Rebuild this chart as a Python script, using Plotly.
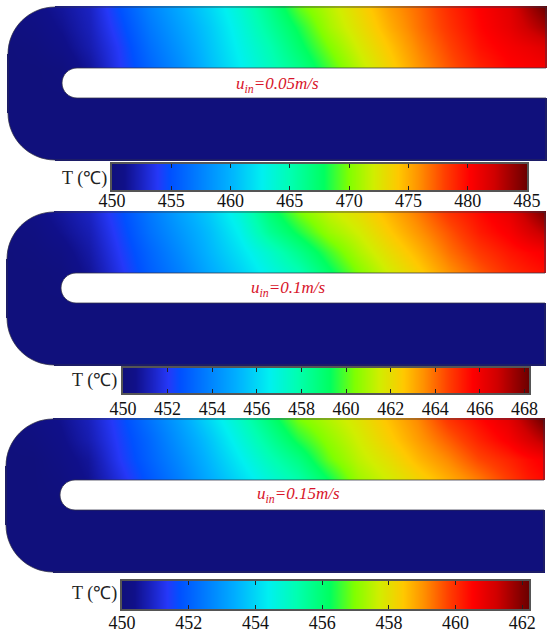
import plotly.graph_objects as go

W, H = 550, 638

# Station positions along the channel and across it (units of the drawing)
X_STATIONS = [0, 27, 54, 82, 112, 142, 172, 202, 232, 262, 292, 322, 352, 382, 412, 442, 472, 502, 522, 538]
Y_STATIONS = [0, 20, 40, 61, 91, 153]

COLD = [450.0] * 20

T_005 = [
    [450.3, 450.8, 451.5, 452.5, 455.0, 457.5, 459.5, 461.5, 463.8, 466.5, 469.5, 471.5, 473.5, 475.5, 477.0, 478.8, 480.2, 481.5, 483.5, 485.0],
    [450.2, 450.5, 451.2, 452.3, 454.5, 457.0, 459.0, 461.0, 463.3, 465.8, 468.3, 471.0, 473.0, 475.0, 476.8, 478.5, 480.0, 481.2, 482.5, 483.5],
    [450.0, 450.2, 450.8, 452.0, 454.0, 456.5, 458.5, 460.7, 462.9, 465.0, 467.5, 470.0, 472.3, 474.3, 476.3, 478.0, 479.6, 480.5, 481.0, 481.5],
    [450.0, 450.0, 450.2, 451.5, 453.8, 456.0, 458.0, 460.4, 462.5, 464.5, 466.5, 469.0, 471.5, 473.7, 475.8, 477.5, 479.0, 480.0, 480.3, 480.5],
    COLD, COLD,
]
T_010 = [
    [450.1, 450.4, 450.8, 451.3, 452.4, 453.6, 454.7, 455.7, 457.0, 458.9, 460.3, 461.3, 462.0, 462.9, 463.8, 464.8, 465.5, 466.2, 467.2, 468.0],
    [450.1, 450.2, 450.6, 451.1, 452.2, 453.4, 454.4, 455.4, 456.6, 458.3, 459.5, 460.7, 461.5, 462.5, 463.4, 464.3, 465.2, 465.8, 466.5, 467.0],
    [450.0, 450.1, 450.3, 450.9, 452.0, 453.1, 454.1, 455.2, 456.2, 457.3, 458.5, 459.8, 461.0, 462.0, 462.9, 463.9, 464.7, 465.3, 465.6, 465.8],
    [450.0, 450.0, 450.1, 450.7, 451.8, 452.9, 453.8, 454.9, 455.8, 456.8, 457.7, 459.1, 460.4, 461.5, 462.4, 463.4, 464.2, 464.9, 465.2, 465.4],
    COLD, COLD,
]
T_015 = [
    [450.0, 450.2, 450.4, 450.8, 451.5, 452.3, 453.1, 454.0, 454.9, 455.9, 456.9, 457.4, 457.9, 458.5, 459.1, 459.9, 460.4, 460.9, 461.6, 462.2],
    [450.0, 450.1, 450.3, 450.7, 451.4, 452.1, 452.9, 453.7, 454.6, 455.5, 456.4, 457.1, 457.7, 458.3, 458.9, 459.5, 460.1, 460.6, 461.1, 461.5],
    [450.0, 450.0, 450.2, 450.5, 451.3, 452.0, 452.7, 453.5, 454.3, 455.1, 455.8, 456.8, 457.5, 458.0, 458.6, 459.1, 459.7, 460.1, 460.4, 460.6],
    [450.0, 450.0, 450.1, 450.4, 451.1, 451.8, 452.5, 453.3, 454.0, 454.7, 455.3, 456.2, 457.2, 457.7, 458.2, 458.7, 459.2, 459.8, 460.2, 460.4],
    COLD, COLD,
]

TICKS_005 = [450, 455, 460, 465, 470, 475, 480, 485]
TICKS_010 = [450, 452, 454, 456, 458, 460, 462, 464, 466, 468]
TICKS_015 = [450, 452, 454, 456, 458, 460, 462]
MAX_005, MAX_010, MAX_015 = 485.0, 468.2, 462.2
LABELS = ["0.05", "0.1", "0.15"]

SCALE = [
    [0.00, "#10107c"], [0.03, "#10108a"], [0.07, "#1a22c0"], [0.11, "#2538f8"], [0.14, "#0050ff"],
    [0.28, "#00b0ff"], [0.36, "#00f0f0"], [0.43, "#00ffb0"], [0.51, "#00ff60"],
    [0.57, "#80ff00"], [0.63, "#d0ee00"], [0.69, "#ffc800"], [0.74, "#ff9000"],
    [0.80, "#ff4000"], [0.86, "#ff0000"], [0.92, "#d00000"], [1.00, "#6a0000"],
]

# layout: one dict per panel (pixel placement)
PANELS = [
    dict(T=T_005, ticks=TICKS_005, tmax=MAX_005, fx=8, fy=7, bar=(112, 527, 164, 190), standoff=-6,
         tlabel=(84, 178), ulabel=(277, 85)),
    dict(T=T_010, ticks=TICKS_010, tmax=MAX_010, fx=7, fy=212, bar=(123, 529, 368, 393), standoff=-1,
         tlabel=(94, 380), ulabel=(288, 289)),
    dict(T=T_015, ticks=TICKS_015, tmax=MAX_015, fx=6, fy=419, bar=(122, 529, 581, 609), standoff=-3,
         tlabel=(94, 593), ulabel=(298, 495)),
]

L, B = 538, 153          # panel size
R, SLOT_X, S0, S1 = 47, 54, 61, 91   # outer radius, slot start, slot edges
K = 0.552


def arc_paths():
    r, sr = R, (S1 - S0) / 2
    c, sc = r * (1 - K), sr * (1 - K)
    tl = f"M-1,-1 L{r},-1 L{r},0 C{c},0 0,{c} 0,{r} L-1,{r} Z"
    bl = f"M-1,{B+1} L{r},{B+1} L{r},{B} C{c},{B} 0,{B-c} 0,{B-r} L-1,{B-r} Z"
    slot = (f"M{L+1},{S0} L{SLOT_X+sr},{S0} C{SLOT_X+sc},{S0} {SLOT_X},{S0+sc} {SLOT_X},{S0+sr} "
            f"C{SLOT_X},{S1-sc} {SLOT_X+sc},{S1} {SLOT_X+sr},{S1} L{L+1},{S1} Z")
    outline = (f"M{L},{S0} L{SLOT_X+sr},{S0} C{SLOT_X+sc},{S0} {SLOT_X},{S0+sc} {SLOT_X},{S0+sr} "
               f"C{SLOT_X},{S1-sc} {SLOT_X+sc},{S1} {SLOT_X+sr},{S1} L{L},{S1} L{L},{B} L{r},{B} "
               f"C{c},{B} 0,{B-c} 0,{B-r} L0,{r} C0,{c} {c},0 {r},0 L{L},0 Z")
    return tl, bl, slot, outline


fig = go.Figure()
layout = dict(
    width=W, height=H, margin=dict(l=0, r=0, t=0, b=0, autoexpand=False),
    paper_bgcolor="white", plot_bgcolor="white", showlegend=False,
    shapes=[], annotations=[],
)
TL, BL, SLOT, OUTLINE = arc_paths()
TIMES = "Liberation Serif"

for i, p in enumerate(PANELS):
    a = 2 * i + 1
    b = 2 * i + 2
    xa, ya = ("x" if a == 1 else f"x{a}"), ("y" if a == 1 else f"y{a}")
    xb, yb = f"x{b}", f"y{b}"
    xk_a, yk_a = ("xaxis" if a == 1 else f"xaxis{a}"), ("yaxis" if a == 1 else f"yaxis{a}")
    xk_b, yk_b = f"xaxis{b}", f"yaxis{b}"

    fig.add_trace(go.Heatmap(x=X_STATIONS, y=Y_STATIONS, z=p["T"], zmin=450, zmax=p["tmax"],
                             colorscale=SCALE, zsmooth="best", showscale=False,
                             xaxis=xa, yaxis=ya, hoverinfo="skip"))
    layout[xk_a] = dict(range=[-1, L + 1], domain=[(p["fx"] - 1) / W, (p["fx"] + L + 1) / W],
                        visible=False, anchor=ya, fixedrange=True)
    layout[yk_a] = dict(range=[B + 1, -1], domain=[1 - (p["fy"] + B + 1) / H, 1 - (p["fy"] - 1) / H],
                        visible=False, anchor=xa, fixedrange=True)
    for path in (TL, BL, SLOT):
        layout["shapes"].append(dict(type="path", path=path, xref=xa, yref=ya, layer="above",
                                     fillcolor="white", line=dict(width=0)))
    layout["shapes"].append(dict(type="path", path=OUTLINE, xref=xa, yref=ya, layer="above",
                                 fillcolor="rgba(0,0,0,0)", line=dict(color="rgba(50,50,70,0.75)", width=1)))

    ramp = sorted(set(p["ticks"] + [p["tmax"]]))
    fig.add_trace(go.Heatmap(x=ramp, y=[0, 1], z=[ramp, ramp], zmin=450, zmax=p["tmax"],
                             colorscale=SCALE, zsmooth="best", showscale=False,
                             xaxis=xb, yaxis=yb, hoverinfo="skip"))
    x0, x1, y0, y1 = p["bar"]
    layout[xk_b] = dict(range=[450, p["tmax"]], domain=[x0 / W, x1 / W], anchor=yb, side="bottom",
                        tickmode="array", tickvals=p["ticks"], ticktext=[str(t) for t in p["ticks"]],
                        ticks="inside", ticklen=4, tickwidth=1, tickcolor="#222",
                        showline=True, linecolor="#555", linewidth=1.5, mirror="ticks",
                        ticklabelstandoff=p["standoff"], showgrid=False, zeroline=False,
                        tickfont=dict(family=TIMES, size=18, color="#111"), fixedrange=True)
    layout[yk_b] = dict(range=[0, 1], domain=[1 - y1 / H, 1 - y0 / H], anchor=xb, showticklabels=False,
                        ticks="", showgrid=False, zeroline=False, showline=True, linecolor="#555",
                        linewidth=1.5, mirror=True, fixedrange=True)

    tx, ty = p["tlabel"]
    layout["annotations"].append(dict(text="T (℃)", x=tx / W, y=1 - ty / H, xref="paper", yref="paper",
                                      showarrow=False, xanchor="center", yanchor="middle",
                                      font=dict(family=TIMES, size=18, color="#222")))
    ux, uy = p["ulabel"]
    layout["annotations"].append(dict(text=f"<i>u<sub>in</sub>={LABELS[i]}m/s</i>", x=ux / W, y=1 - uy / H,
                                      xref="paper", yref="paper", showarrow=False,
                                      xanchor="center", yanchor="middle",
                                      font=dict(family=TIMES, size=17, color="#d8142a")))

fig.update_layout(**layout)
fig.write_html("out.html", config={"displayModeBar": False},
               post_script="document.body.style.margin='0';document.documentElement.style.overflow='hidden';")
